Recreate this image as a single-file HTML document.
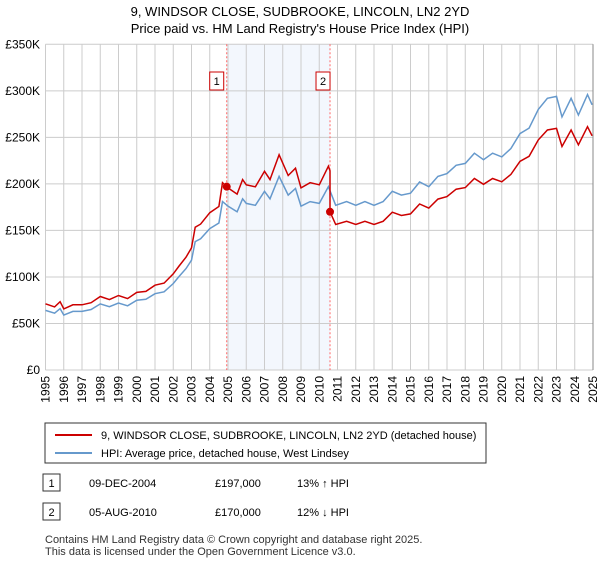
<!DOCTYPE html>
<html><head><meta charset="utf-8"><style>
body{margin:0;background:#fff;font-family:"Liberation Sans",sans-serif;}
svg text{font-family:"Liberation Sans",sans-serif;}
</style></head><body>
<svg width="600" height="560" viewBox="0 0 600 560">
<text x="300" y="16" text-anchor="middle" font-size="13">9, WINDSOR CLOSE, SUDBROOKE, LINCOLN, LN2 2YD</text>
<text x="300" y="33" text-anchor="middle" font-size="13">Price paid vs. HM Land Registry's House Price Index (HPI)</text>
<g id="plot"></g>
<rect x="45" y="423" width="441" height="40" fill="#fff" stroke="#333"/>
<line x1="55" y1="435" x2="92" y2="435" stroke="#cc0000" stroke-width="2"/>
<text x="101" y="439" font-size="11">9, WINDSOR CLOSE, SUDBROOKE, LINCOLN, LN2 2YD (detached house)</text>
<line x1="55" y1="453" x2="92" y2="453" stroke="#6699cc" stroke-width="2"/>
<text x="101" y="457" font-size="11">HPI: Average price, detached house, West Lindsey</text>
<rect x="43" y="474" width="17" height="17" fill="#fff" stroke="#333"/>
<text x="51.5" y="487" text-anchor="middle" font-size="11">1</text>
<text x="89" y="487" font-size="11">09-DEC-2004</text>
<text x="215" y="487" font-size="11">£197,000</text>
<text x="297" y="487" font-size="11">13% ↑ HPI</text>
<rect x="43" y="503" width="17" height="17" fill="#fff" stroke="#333"/>
<text x="51.5" y="516" text-anchor="middle" font-size="11">2</text>
<text x="89" y="516" font-size="11">05-AUG-2010</text>
<text x="215" y="516" font-size="11">£170,000</text>
<text x="297" y="516" font-size="11">12% ↓ HPI</text>
<text x="45" y="543" font-size="11" fill="#333">Contains HM Land Registry data © Crown copyright and database right 2025.</text>
<text x="45" y="555" font-size="11" fill="#333">This data is licensed under the Open Government Licence v3.0.</text>
</svg>
<script>
const hpiYears=[1995,1995.5,1995.8,1996,1996.5,1997,1997.5,1998,1998.5,1999,1999.5,2000,2000.5,2001,2001.5,2002,2002.3,2002.7,2003,2003.2,2003.5,2004,2004.5,2004.7,2005,2005.5,2005.8,2006,2006.5,2007,2007.3,2007.8,2008.3,2008.7,2009,2009.5,2010,2010.5,2010.9,2011.5,2012,2012.5,2013,2013.5,2014,2014.5,2015,2015.5,2016,2016.5,2017,2017.5,2018,2018.5,2019,2019.5,2020,2020.5,2021,2021.5,2022,2022.5,2023,2023.3,2023.8,2024.2,2024.7,2024.95];
const hpiValues=[64,61,66,59,63,63,65,71,68,72,69,75,76,82,84,93,100,109,118,138,141,152,158,181,176,170,184,179,177,192,184,208,188,195,176,181,179,197,177,181,177,181,177,181,192,188,190,202,197,208,211,220,222,233,226,233,229,238,254,260,280,292,294,272,292,274,296,285];
const saleYears=[2004.93,2010.59];
const salePrices=[197,170];
const saleLabels=["1","2"];
const yTicks=[0,50,100,150,200,250,300,350];
const yTickLabels=["£0","£50K","£100K","£150K","£200K","£250K","£300K","£350K"];
const xTicks=[1995,1996,1997,1998,1999,2000,2001,2002,2003,2004,2005,2006,2007,2008,2009,2010,2011,2012,2013,2014,2015,2016,2017,2018,2019,2020,2021,2022,2023,2024,2025];

const X0=45.5,X1=593,Y0=370,Y1=44.3;
const xs=y=>X0+(y-1995)/30*(X1-X0);
const ys=v=>Y0-v/350*(Y0-Y1);
const NS="http://www.w3.org/2000/svg";
const g=document.getElementById('plot');
function mk(t,a,name){const e=document.createElementNS(NS,t);for(const k in a)e.setAttribute(k,a[k]);


g.appendChild(e);return e;}
function hpiAt(t){for(let i=0;i<hpiYears.length-1;i++){if(t<=hpiYears[i+1]){const f=(t-hpiYears[i])/(hpiYears[i+1]-hpiYears[i]);return hpiValues[i]+f*(hpiValues[i+1]-hpiValues[i]);}}return hpiValues[hpiValues.length-1];}
mk('rect',{x:xs(saleYears[0]),y:Y1,width:xs(saleYears[1])-xs(saleYears[0]),height:Y0-Y1,fill:'#eef3fc',opacity:0.7},'shaded-ownership-period');
yTicks.forEach((v,i)=>{mk('line',{x1:X0,x2:X1,y1:ys(v),y2:ys(v),stroke:'#ccc'},'y-gridline');
const t=mk('text',{x:40,y:ys(v)+4,'text-anchor':'end','font-size':12},'y-tick-label');t.textContent=yTickLabels[i];});
xTicks.forEach(y=>{mk('line',{x1:xs(y),x2:xs(y),y1:Y1,y2:Y0,stroke:'#ccc'},'x-gridline');
const t=mk('text',{x:0,y:0,'font-size':12,'text-anchor':'end',transform:`translate(${xs(y)+4},${Y0+6}) rotate(-90)`},'x-tick-label');t.textContent=y;});
mk('line',{x1:X1,x2:X1,y1:Y1,y2:Y0,stroke:'#888'},'right-axis');
saleYears.forEach((s,i)=>{mk('line',{x1:xs(s),x2:xs(s),y1:Y1,y2:Y0,stroke:'#ff6666','stroke-dasharray':'2,2'},'sale-vline');
const bx=xs(s)-(i==0?11:8);mk('rect',{x:bx-6,y:72,width:14,height:18,fill:'#fff',stroke:'#cc0000'},'sale-marker-box');
const t=mk('text',{x:bx+1,y:85,'text-anchor':'middle','font-size':11},'sale-marker-label');t.textContent=saleLabels[i];});
// HPI line
mk('path',{d:hpiYears.map((y,i)=>(i?'L':'M')+xs(y).toFixed(1)+','+ys(hpiValues[i]).toFixed(1)).join(''),fill:'none',stroke:'#6699cc','stroke-width':1.5},'hpi-line');
// price line: hpi scaled by sale ratios
const r1=salePrices[0]/hpiAt(saleYears[0]),r2=salePrices[1]/hpiAt(saleYears[1]);
let pts=[];
hpiYears.forEach((y,i)=>{if(y<saleYears[1])pts.push([y,hpiValues[i]*r1]);});
pts.push([saleYears[1],hpiAt(saleYears[1])*r1]);pts.push([saleYears[1],salePrices[1]]);
hpiYears.forEach((y,i)=>{if(y>saleYears[1])pts.push([y,hpiValues[i]*r2]);});
mk('path',{d:pts.map((p,i)=>(i?'L':'M')+xs(p[0]).toFixed(1)+','+ys(p[1]).toFixed(1)).join(''),fill:'none',stroke:'#cc0000','stroke-width':1.5},'price-line');
saleYears.forEach((s,i)=>mk('circle',{cx:xs(s),cy:ys(salePrices[i]),r:4,fill:'#cc0000'},'sale-point'));
</script>
</body></html>
